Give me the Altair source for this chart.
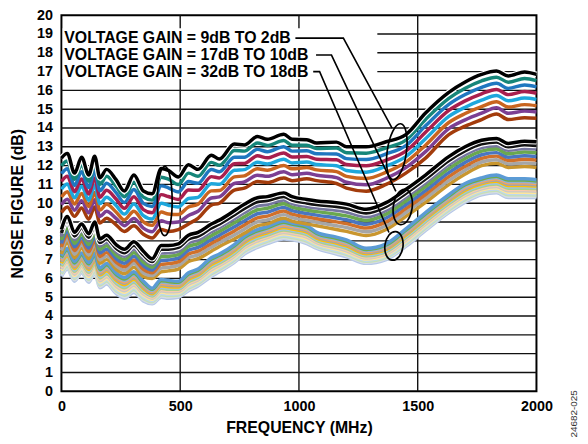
import altair as alt
import pandas as pd

# ---------------- data ----------------
FREQ = [0, 25, 55, 85, 115, 140, 162, 190, 230, 265, 305, 345, 382, 420, 450, 492,
        535, 575, 631, 665, 728, 770, 825, 867, 936, 971, 1033, 1075, 1158, 1200,
        1283, 1367, 1450, 1533, 1631, 1700, 1769, 1832, 1881, 1950, 2000]

# Voltage gain 9 dB to 2 dB (top and bottom curves of the bundle)
G1_TOP = [12.4, 12.65, 11.6, 12.45, 11.5, 12.5, 11.35, 11.8, 11.25, 10.65, 11.5, 10.65, 10.5,
          11.85, 11.75, 11.4, 12.05, 11.8, 12.55, 12.35, 13.15, 13.1, 13.55, 13.4, 13.67, 13.4,
          13.38, 13.2, 13.25, 13.0, 13.0, 13.27, 13.65, 14.8, 15.9, 16.45, 16.85, 17.03, 16.77,
          16.98, 16.85]
G1_BOT = [9.5, 9.8, 9.3, 9.75, 9.15, 9.8, 8.95, 9.2, 8.85, 8.5, 8.8, 8.35, 8.15, 8.6, 8.5, 8.6,
          8.9, 9.2, 9.9, 10.0, 10.7, 10.8, 11.15, 11.1, 11.34, 11.2, 11.3, 11.2, 11.05, 10.8,
          10.64, 11.0, 11.6, 12.4, 13.65, 14.1, 14.45, 14.75, 14.45, 14.55, 14.52]
# Voltage gain 17 dB to 10 dB
G2_TOP = [8.6, 9.3, 8.45, 8.9, 8.38, 9.0, 8.1, 8.3, 7.8, 7.55, 7.95, 7.45, 7.05, 7.75, 7.75,
          7.84, 8.3, 8.45, 8.89, 9.1, 9.6, 9.94, 10.29, 10.35, 10.55, 10.35, 10.2, 10.12, 10.03,
          9.95, 9.68, 10.03, 10.73, 11.5, 12.48, 13.0, 13.35, 13.44, 13.18, 13.3, 13.27]
G2_BOT = [7.3, 7.9, 7.1, 7.6, 7.05, 7.65, 6.8, 7.0, 6.5, 6.25, 6.6, 6.1, 6.0, 6.35, 6.4, 6.5,
          6.9, 7.05, 7.45, 7.7, 8.1, 8.4, 8.8, 8.9, 9.2, 9.05, 8.9, 8.8, 8.6, 8.5, 8.28, 8.6,
          9.3, 10.05, 10.99, 11.55, 12.0, 12.13, 11.9, 11.95, 11.9]
# Voltage gain 32 dB to 18 dB
G3_TOP = [7.2, 7.6, 6.9, 7.35, 6.85, 7.35, 6.55, 6.8, 6.3, 6.05, 6.35, 5.85, 5.48, 5.95, 5.9,
          5.85, 6.3, 6.5, 7.1, 7.3, 7.8, 8.25, 8.6, 8.75, 9.05, 8.95, 8.8, 8.45, 8.2, 8.05, 7.6,
          7.84, 8.63, 9.5, 10.45, 11.05, 11.35, 11.5, 11.3, 11.3, 11.25]
G3_BOT = [6.1, 6.5, 5.85, 6.3, 5.8, 6.3, 5.5, 5.7, 5.2, 4.95, 5.25, 4.8, 4.65, 5.0, 4.95, 5.0,
          5.35, 5.6, 6.1, 6.35, 6.85, 7.3, 7.65, 7.85, 8.1, 8.05, 7.85, 7.6, 7.3, 7.15, 6.8, 7.0,
          7.7, 8.55, 9.5, 10.05, 10.45, 10.55, 10.3, 10.3, 10.3]

G1_COLORS = ["#000000", "#16867a", "#1f77c0", "#a81f4e", "#1ea7dc", "#c9651f", "#7c3f93", "#a33c0c"]
G2_COLORS = ["#000000", "#111111", "#75769f", "#6aa84f", "#4a76c0", "#d0702a", "#a6a6a6", "#c9962e"]
G3_COLORS = ["#5b9bd5", "#70ad47", "#8fb0d8", "#f4a460", "#a5a5a5", "#ffc000", "#9dc3e6",
             "#a9d18e", "#f8cbad", "#c9c9c9", "#ffe699", "#bdd7ee", "#c5e0b4", "#d6dce5", "#b4c7e7"]

LEGEND_TEXT = ["VOLTAGE GAIN = 9dB TO 2dB", "VOLTAGE GAIN = 17dB TO 10dB", "VOLTAGE GAIN = 32dB TO 18dB"]
LEGEND_Y = [18.78, 17.88, 17.0]

X_TICKS = [0, 500, 1000, 1500, 2000]
Y_TICKS = list(range(0, 21))

# annotation geometry (data units)
LEADERS = [
    [(985, 18.78), (1187, 18.78), (1392, 14.0)],
    [(1072, 17.88), (1137, 17.88), (1408, 10.63)],
    [(1060, 17.0), (1087, 17.0), (1379, 8.44)],
]
ELLIPSES = [  # centre freq, centre dB, height px, width/height ratio, tilt
    (1412, 12.74, 57, 0.34, 8),
    (1437, 9.80, 36, 0.53, 8),
    (1400, 7.73, 29, 0.63, 8),
    (435, 10.12, 70, 0.214, 0),
]

# ---------------- build tables ----------------
rows = []
curve_layers = []
for g, (top, bot, colors) in enumerate([(G3_TOP, G3_BOT, G3_COLORS),
                                        (G2_TOP, G2_BOT, G2_COLORS),
                                        (G1_TOP, G1_BOT, G1_COLORS)]):
    n = len(colors)
    for i in reversed(range(n)):
        t = i / (n - 1)
        cid = f"g{g}c{i}"
        for f, a, b in zip(FREQ, top, bot):
            rows.append({"freq": f, "nf": a + t * (b - a), "cid": cid})
        curve_layers.append((cid, colors[i]))
curves = pd.DataFrame(rows)

grid_rows = []
for y in Y_TICKS[1:20]:
    x0 = 0 if y <= 16 else 1330
    grid_rows.append({"x": x0, "x2": 2000, "y": y, "y2": y})
for x in X_TICKS[1:4]:
    grid_rows.append({"x": x, "x2": x, "y": 0, "y2": 20})
grid = pd.DataFrame(grid_rows)

lead_rows = []
for k, pts in enumerate(LEADERS):
    for j, (fx, fy) in enumerate(pts):
        lead_rows.append({"x": fx, "y": fy, "lid": k, "idx": j})
leaders = pd.DataFrame(lead_rows)

ell_rows = []
for cx, cy, h, r, ang in ELLIPSES:
    path = f"M 0 -1 A {r} 1 0 1 1 0 1 A {r} 1 0 1 1 0 -1 Z"
    ell_rows.append({"x": cx, "y": cy, "shape": path, "size": h * h, "ang": ang})
ellipses = pd.DataFrame(ell_rows)

legend = pd.DataFrame({"x": [12] * 3, "y": LEGEND_Y, "t": LEGEND_TEXT})

# ---------------- encodings ----------------
FONT = "Liberation Sans"
XS = alt.Scale(domain=[0, 2000], nice=False, zero=False)
YS = alt.Scale(domain=[0, 20], nice=False, zero=False)
XAX = alt.Axis(values=X_TICKS, format="d", title="FREQUENCY (MHz)", ticks=False, domain=False,
               grid=False, labelFont=FONT, labelFontWeight="bold", labelFontSize=14.5,
               labelColor="black", labelPadding=8, titleFont=FONT, titleFontWeight="bold",
               titleFontSize=16, titleColor="black", titlePadding=7, labelFlush=False)
YAX = alt.Axis(values=Y_TICKS, format="d", title="NOISE FIGURE (dB)", ticks=False, domain=False,
               grid=False, labelFont=FONT, labelFontWeight="bold", labelFontSize=14.5,
               labelColor="black", labelPadding=9, titleFont=FONT, titleFontWeight="bold",
               titleFontSize=16, titleColor="black", titlePadding=11, labelFlush=False)


def X(f):
    return alt.X(f, type="quantitative", scale=XS, axis=XAX)


def Y(f):
    return alt.Y(f, type="quantitative", scale=YS, axis=YAX)


layers = []
layers.append(alt.Chart(grid).mark_rule(color="#111111", strokeWidth=1.4).encode(
    x=X("x"), x2="x2", y=Y("y"), y2="y2"))
layers.append(alt.Chart(pd.DataFrame({"x": [5], "x2": [1060], "y": [16.6], "y2": [19.3]}))
              .mark_rect(color="white").encode(x=X("x"), x2="x2", y=Y("y"), y2="y2"))

for cid, col in curve_layers:
    base = alt.Chart(curves).transform_filter(alt.datum.cid == cid)
    if col in ("#000000", "#111111"):
        layers.append(base.mark_line(color="white", strokeWidth=5.8, interpolate="monotone")
                      .encode(x=X("freq"), y=Y("nf")))
    layers.append(base.mark_line(color=col, strokeWidth=3.5, interpolate="monotone")
                  .encode(x=X("freq"), y=Y("nf")))

layers.append(alt.Chart(leaders).mark_line(color="black", strokeWidth=1.6).encode(
    x=X("x"), y=Y("y"), detail="lid:N", order="idx:Q"))
layers.append(alt.Chart(ellipses).mark_point(filled=False, color="black", strokeWidth=1.7, opacity=1)
              .encode(x=X("x"), y=Y("y"),
                      shape=alt.Shape("shape:N", scale=None),
                      size=alt.Size("size:Q", scale=None),
                      angle=alt.Angle("ang:Q", scale=None)))
layers.append(alt.Chart(legend).mark_text(align="left", baseline="middle", font=FONT,
                                          fontWeight="bold", fontSize=16, color="black")
              .encode(x=X("x"), y=Y("y"), text="t:N"))
layers.append(alt.Chart(pd.DataFrame({"x": [2158], "y": [-1.2], "t": ["24682-025"]}))
              .mark_text(angle=270, align="center", baseline="middle", font=FONT, fontSize=10,
                         color="#333333")
              .encode(x=X("x"), y=Y("y"), text="t:N"))

chart = alt.layer(*layers).properties(
    width=480, height=380,
    padding={"left": 54, "top": 5, "right": 44, "bottom": 47},
    autosize=alt.AutoSizeParams(type="none"),
    background="white",
).configure_view(stroke="black", strokeWidth=2)

chart.save("out.html", embed_options={"renderer": "svg", "actions": False})
